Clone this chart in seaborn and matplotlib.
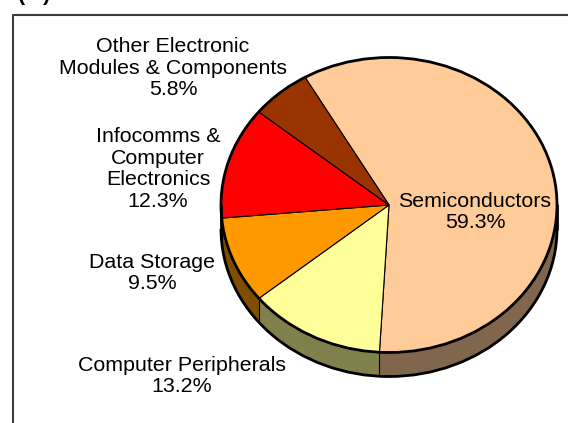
import matplotlib
matplotlib.use('Agg')
import matplotlib.pyplot as plt
import numpy as np
import seaborn as sns
from matplotlib.patches import Arc, Ellipse

################################################################################
# data
################################################################################
labels = ['Semiconductors', 'Computer Peripherals', 'Data Storage',
          'Infocomms &\nComputer\nElectronics',
          'Other Electronic\nModules & Components']
shares = [59.3, 13.2, 9.5, 12.3, 5.8]
top_colors = ['#FFCC99', '#FFFF99', '#FF9900', '#FF0000', '#993300']
side_colors = ['#80664D', '#80804D', '#804D00', '#800000', '#4D1A00']
label_px = [(475, 212), (182, 376), (152, 273), (158, 169), (173, 68)]

W, H = 568, 423
CX, CY = 389, 205     # pie centre, pixels
RX, RY = 168, 147.5   # pie radii, pixels
DEPTH = 24 / RY       # wall height in pie units
START = 120

sns.set_theme(style='white')
plt.rcParams['font.family'] = ['Liberation Sans', 'DejaVu Sans']

fig = plt.figure(figsize=(W / 100, H / 100), dpi=100)
ax = fig.add_axes([0, 0, 1, 1])

# wall: same pie stacked downwards, darker colours
for d in np.linspace(DEPTH, 0, 25):
    ax.pie(shares, colors=side_colors, startangle=START, counterclock=False,
           center=(0, -d), normalize=True, wedgeprops={'linewidth': 0})

# top face
ax.pie(shares, colors=top_colors, startangle=START, counterclock=False,
       normalize=True, wedgeprops={'edgecolor': 'black', 'linewidth': 0.8})

ax.set_aspect('auto')
ax.set_xlim(-CX / RX, (W - CX) / RX)
ax.set_ylim(-(H - CY) / RY, CY / RY)

# wall edges at the slice boundaries on the front
angles = START - np.cumsum(shares) / sum(shares) * 360
for a in np.radians(angles):
    if np.sin(a) < 0:
        x, y = np.cos(a), np.sin(a)
        ax.plot([x, x], [y, y - DEPTH], color='black', lw=0.8, zorder=5)

# thick outlines
ax.add_patch(Ellipse((0, 0), 2, 2, fill=False, ec='black', lw=2, zorder=6))
ax.add_patch(Arc((0, -DEPTH), 2, 2, theta1=180, theta2=360, ec='black', lw=2, zorder=6))
for x in [-1, 1]:
    ax.plot([x, x], [0, -DEPTH], color='black', lw=2, zorder=6)

# labels
for name, share, (px, py) in zip(labels, shares, label_px):
    fig.text(px / W, 1 - py / H, f'{name}\n{share}%', ha='center', va='center',
             fontsize=15.4, color='black', linespacing=1.17, zorder=10)

# chart frame, open to the right and below
fig.add_artist(plt.Line2D([12.5 / W, 12.5 / W, 1], [0, 1 - 15 / H, 1 - 15 / H],
                          color='#3c3c3c', lw=1.5))

# title is cut off by the crop, only the brackets show
fig.text(18 / W, 1 - 1 / H, '(   )', fontsize=15.4, fontweight='bold',
         color='black', ha='left', va='baseline')

fig.savefig('out.png', dpi=100)
